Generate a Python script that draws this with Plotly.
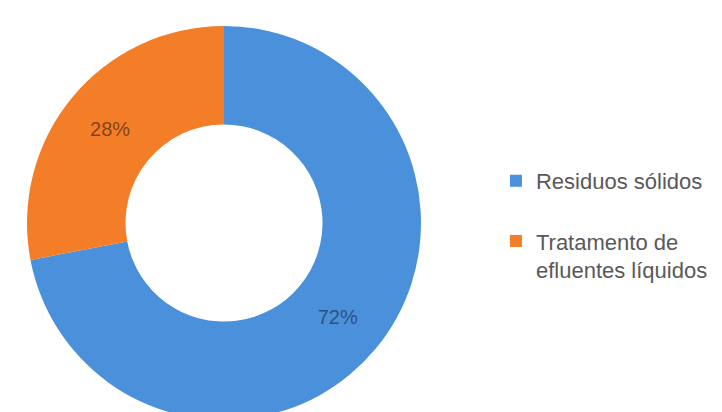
import plotly.graph_objects as go

categories = ["Residuos sólidos<br> ", "Tratamento de<br>efluentes líquidos"]
shares = [72, 28]
colors = ["#4A90DA", "#F47D28"]

fig = go.Figure(go.Pie(
    labels=categories,
    values=shares,
    hole=0.5,
    sort=False,
    direction="clockwise",
    rotation=0,
    marker=dict(colors=colors, line=dict(width=0)),
    textinfo="percent",
    texttemplate="%{percent:.0%}",
    textposition="inside",
    insidetextorientation="horizontal",
    textfont=dict(family="Liberation Sans, Arial, sans-serif", size=20,
                  color=["rgba(35,60,95,0.75)", "rgba(90,50,20,0.75)"]),
    domain=dict(x=[0, 398 / 705], y=[0, 1]),
))

fig.update_layout(
    width=722, height=412,
    margin=dict(l=17, r=0, t=18, b=0),
    paper_bgcolor="white",
    plot_bgcolor="white",
    showlegend=True,
    legend=dict(
        x=0.668, y=0.66, xanchor="left", yanchor="top",
        valign="top",
        font=dict(family="Liberation Sans, Arial, sans-serif", size=22, color="#595959"),
        tracegroupgap=0,
    ),
)

fig.write_html("out.html")
